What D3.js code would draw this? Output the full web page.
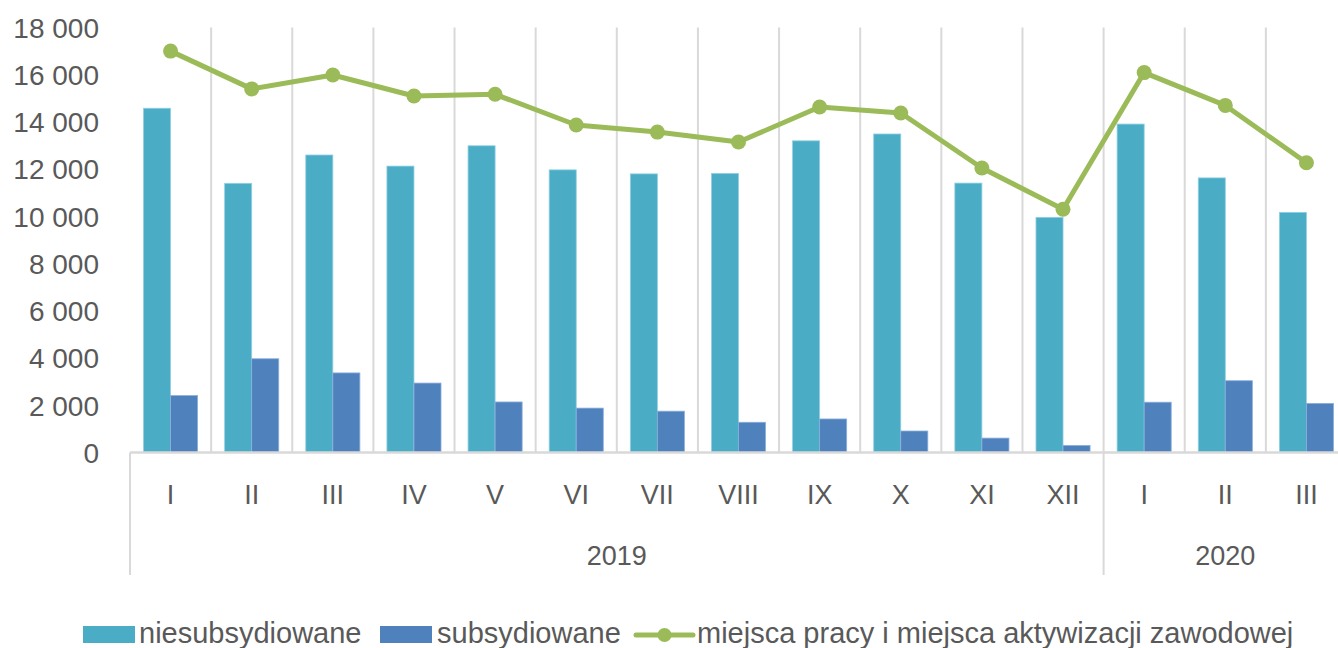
<!DOCTYPE html>
<html>
<head>
<meta charset="utf-8">
<script src="https://cdn.jsdelivr.net/npm/d3@7"></script>
<style>
  body { margin: 0; background: #ffffff; }
  svg { display: block; }
</style>
</head>
<body>
<div id="chart"></div>
<script>
// months on the lower axis level, years on the upper one
const months = ['I', 'II', 'III', 'IV', 'V', 'VI', 'VII', 'VIII', 'IX', 'X', 'XI', 'XII', 'I', 'II', 'III'];
const years = ['2019', '2019', '2019', '2019', '2019', '2019', '2019', '2019', '2019', '2019', '2019', '2019', '2020', '2020', '2020'];
const yearLabels = ['2019', '2020'];

const niesubsydiowane = [14580, 11400, 12600, 12130, 12990, 11970, 11800, 11820, 13200, 13490, 11410, 9960, 13910, 11630, 10170];
const subsydiowane = [2410, 3970, 3370, 2940, 2140, 1880, 1750, 1280, 1420, 910, 610, 300, 2130, 3040, 2080];
const miejsca = [17000, 15400, 15990, 15100, 15170, 13870, 13570, 13150, 14630, 14380, 12050, 10300, 16090, 14700, 12270];

const yTicks = [0, 2000, 4000, 6000, 8000, 10000, 12000, 14000, 16000, 18000];
const seriesNames = ['niesubsydiowane', 'subsydiowane', 'miejsca pracy i miejsca aktywizacji zawodowej'];
const colors = ['#4BACC6', '#4F81BD', '#9BBB59'];

const width = 1338;
const height = 648;
const plotLeft = 130, plotRight = 1347, plotTop = 27.5, plotBottom = 452.5;
const textColor = '#595959';
const gridColor = '#D9D9D9';
const font = 'Liberation Sans, Arial, sans-serif';

const keys = months.map((m, i) => years[i] + '-' + m);

const svg = d3.select('#chart')
  .append('svg')
  .attr('width', width)
  .attr('height', height);

const x = d3.scaleBand()
  .domain(keys)
  .range([plotLeft, plotRight])
  .paddingInner(0)
  .paddingOuter(0);

const xInner = d3.scaleBand()
  .domain(['n', 's'])
  .range([0, x.bandwidth()])
  .paddingInner(0)
  .paddingOuter(0.5);

const y = d3.scaleLinear()
  .domain([0, 18000])
  .range([plotBottom, plotTop]);

const fmt = d3.formatLocale({ decimal: ',', thousands: ' ', grouping: [3], currency: ['', ''] }).format(',.0f');

// vertical gridlines at category boundaries
svg.append('g')
  .selectAll('line')
  .data(keys.slice(1))
  .enter()
  .append('line')
  .attr('x1', d => x(d))
  .attr('x2', d => x(d))
  .attr('y1', plotTop)
  .attr('y2', plotBottom)
  .attr('stroke', gridColor)
  .attr('stroke-width', 2);

// y axis labels
const yAxis = svg.append('g')
  .attr('transform', `translate(${plotLeft - 31},0)`)
  .call(d3.axisLeft(y).tickValues(yTicks).tickFormat(fmt).tickSize(0).tickPadding(0));
yAxis.select('.domain').remove();
yAxis.selectAll('text')
  .attr('fill', textColor)
  .attr('font-family', font)
  .attr('font-size', 28)
  .attr('dy', '0.35em');

// bars
svg.append('g')
  .selectAll('rect')
  .data(niesubsydiowane)
  .enter()
  .append('rect')
  .attr('x', (d, i) => x(keys[i]) + xInner('n'))
  .attr('y', d => y(d))
  .attr('width', xInner.bandwidth())
  .attr('height', d => plotBottom - y(d))
  .attr('fill', colors[0])
  .attr('stroke', '#8FD0E2')
  .attr('stroke-width', 0.8);

svg.append('g')
  .selectAll('rect')
  .data(subsydiowane)
  .enter()
  .append('rect')
  .attr('x', (d, i) => x(keys[i]) + xInner('s'))
  .attr('y', d => y(d))
  .attr('width', xInner.bandwidth())
  .attr('height', d => plotBottom - y(d))
  .attr('fill', colors[1])
  .attr('stroke', '#8AAEDC')
  .attr('stroke-width', 0.8);

// category axis line and year separators
svg.append('line')
  .attr('x1', plotLeft).attr('x2', plotRight)
  .attr('y1', plotBottom).attr('y2', plotBottom)
  .attr('stroke', gridColor).attr('stroke-width', 2.5);

const yearStarts = yearLabels.map(yr => keys[years.indexOf(yr)]);
svg.append('g')
  .selectAll('line')
  .data(yearStarts)
  .enter()
  .append('line')
  .attr('x1', d => x(d))
  .attr('x2', d => x(d))
  .attr('y1', plotBottom)
  .attr('y2', 575)
  .attr('stroke', gridColor)
  .attr('stroke-width', 2);

// month labels
svg.append('g')
  .selectAll('text')
  .data(keys)
  .enter()
  .append('text')
  .attr('x', d => x(d) + x.bandwidth() / 2)
  .attr('y', 504)
  .attr('text-anchor', 'middle')
  .attr('fill', textColor)
  .attr('font-family', font)
  .attr('font-size', 27)
  .text((d, i) => months[i]);

// year labels
svg.append('g')
  .selectAll('text')
  .data(yearLabels)
  .enter()
  .append('text')
  .attr('x', yr => {
    const k = keys.filter((d, i) => years[i] === yr);
    return (x(k[0]) + x(k[k.length - 1]) + x.bandwidth()) / 2;
  })
  .attr('y', 565)
  .attr('text-anchor', 'middle')
  .attr('fill', textColor)
  .attr('font-family', font)
  .attr('font-size', 27)
  .text(d => d);

// line series
const line = d3.line()
  .x((d, i) => x(keys[i]) + x.bandwidth() / 2)
  .y(d => y(d));

svg.append('path')
  .datum(miejsca)
  .attr('d', line)
  .attr('fill', 'none')
  .attr('stroke', colors[2])
  .attr('stroke-width', 5)
  .attr('stroke-linejoin', 'round');

svg.append('g')
  .selectAll('circle')
  .data(miejsca)
  .enter()
  .append('circle')
  .attr('cx', (d, i) => x(keys[i]) + x.bandwidth() / 2)
  .attr('cy', d => y(d))
  .attr('r', 7.5)
  .attr('fill', colors[2]);

// legend
const legend = svg.append('g')
  .attr('font-family', font)
  .attr('font-size', 29)
  .attr('fill', textColor);

const legendX = [83, 380, 636];
const legendTextX = [139, 437, 697];
const ly = 635;

legend.selectAll('rect')
  .data([0, 1])
  .enter()
  .append('rect')
  .attr('x', i => legendX[i])
  .attr('y', ly - 9)
  .attr('width', 52)
  .attr('height', 17)
  .attr('fill', i => colors[i]);

legend.append('line')
  .attr('x1', legendX[2]).attr('x2', legendTextX[2] - 4)
  .attr('y1', ly).attr('y2', ly)
  .attr('stroke', colors[2])
  .attr('stroke-width', 5)
  .attr('stroke-linecap', 'round');

legend.append('circle')
  .attr('cx', (legendX[2] + legendTextX[2] - 4) / 2)
  .attr('cy', ly)
  .attr('r', 7)
  .attr('fill', colors[2]);

legend.selectAll('text')
  .data(seriesNames)
  .enter()
  .append('text')
  .attr('x', (d, i) => legendTextX[i])
  .attr('y', 643)
  .text(d => d);
</script>
</body>
</html>
